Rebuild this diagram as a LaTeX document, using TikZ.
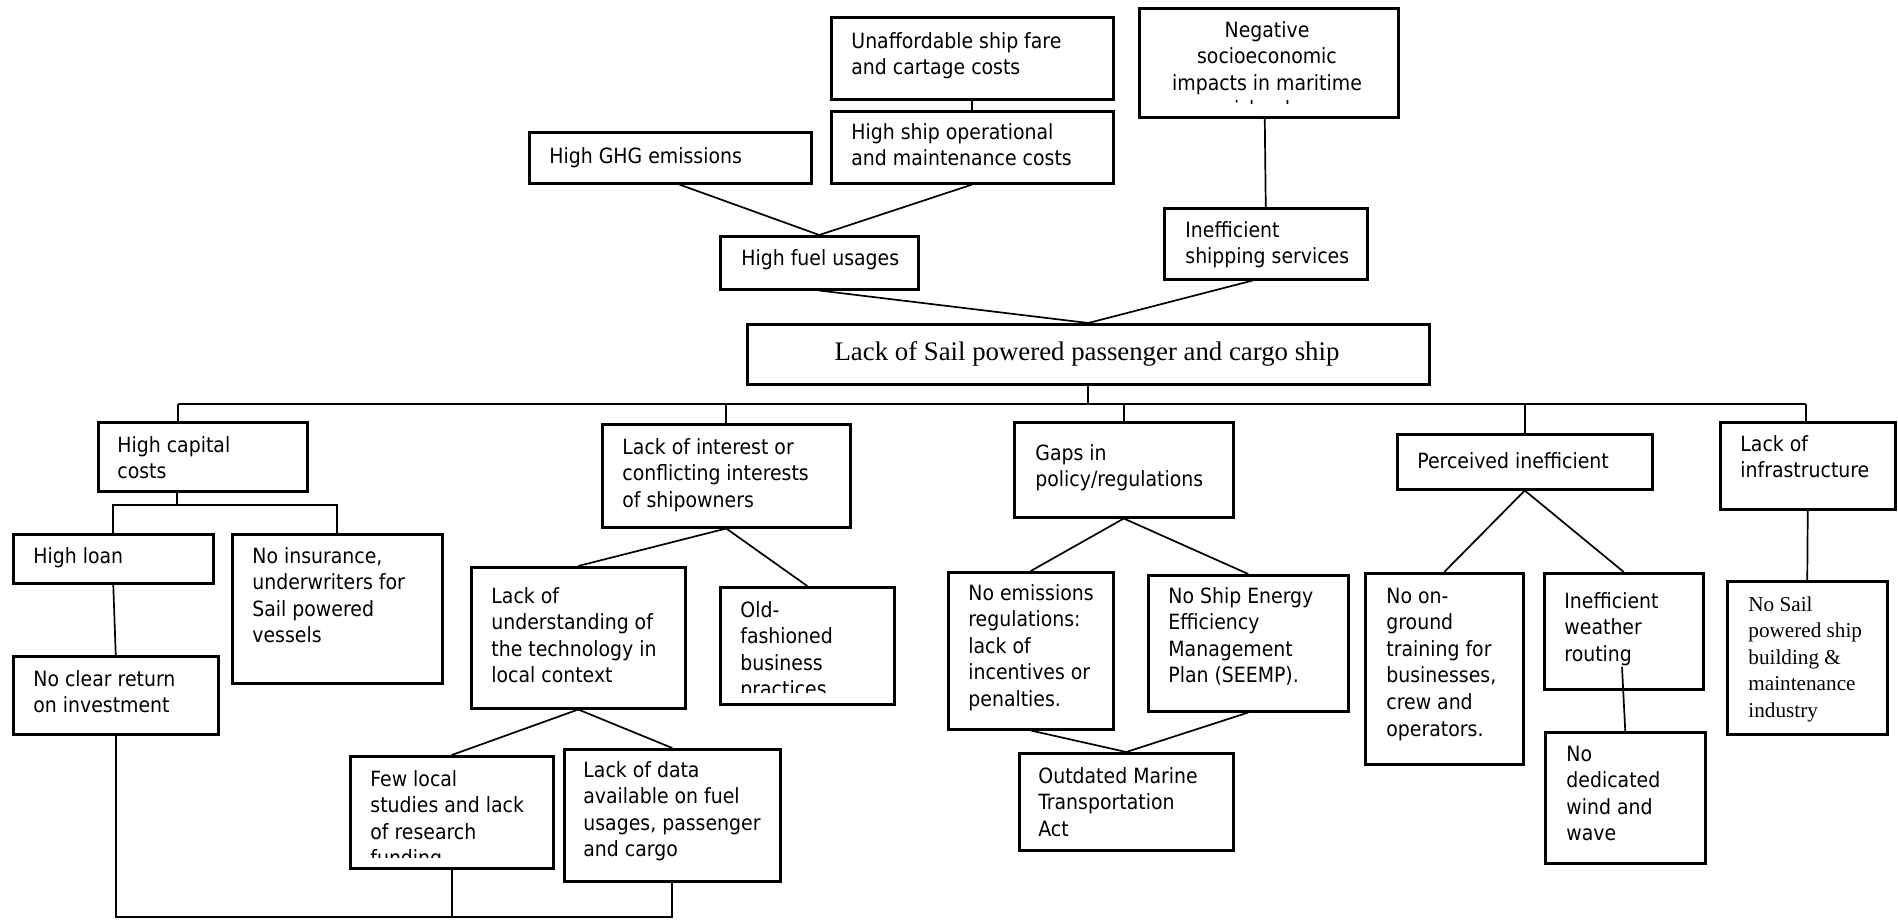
\documentclass[tikz,border=0pt]{standalone}
\usepackage{fontspec}
\setmainfont{DejaVu Sans Condensed}
\newfontfamily\serifface{Liberation Serif}
\usetikzlibrary{calc}
% multi-line labels: the node's base is the first line's baseline
\newcommand\lines[1]{\parbox[t]{10cm}{#1}}
\newcommand\clines[1]{\parbox[t]{5cm}{\centering #1}}
% box from its top-left and bottom-right corners (in px units)
\newcommand\bx[5]{\node[box, minimum width={(#4-#2)*0.5pt}, minimum height={(#5-#3)*0.5pt}] (#1) at (#2,#3) {};}
\begin{document}
\begin{tikzpicture}[x=0.5pt, y=-0.5pt,
  box/.style={draw, line width=1.25pt, inner sep=0pt, anchor=north west},
  txt/.style={inner sep=0pt, anchor=base west, font=\fontsize{10.5}{13.3}\selectfont},
  serif/.style={txt, font=\serifface\fontsize{10.6}{13.3}\selectfont},
  link/.style={line width=0.85pt}]
\useasboundingbox[fill=white] (0,0) rectangle (1898,921);

% ---- boxes ----
\bx{unaff}{830}{16}{1112}{98}
\bx{neg}{1138}{7}{1397}{116}
\bx{hop}{830}{110}{1112}{182}
\bx{ghg}{528}{131}{810}{182}
\bx{fuel}{719}{235}{917}{288}
\bx{ship}{1163}{207}{1366}{278}
\bx{root}{746}{323}{1428}{383}
\bx{cap}{97}{421}{306}{490}
\bx{loan}{12}{533}{212}{582}
\bx{insur}{231}{533}{441}{682}
\bx{noret}{12}{655}{217}{733}
\bx{inter}{601}{423}{849}{526}
\bx{under}{470}{566}{684}{707}
\bx{oldf}{719}{586}{893}{703}
\bx{few}{349}{755}{552}{867}
\bx{data}{563}{748}{779}{880}
\bx{gaps}{1013}{421}{1232}{516}
\bx{emis}{947}{571}{1112}{728}
\bx{seemp}{1147}{574}{1347}{710}
\bx{outd}{1018}{752}{1232}{849}
\bx{perc}{1396}{433}{1651}{488}
\bx{infra}{1719}{421}{1894}{508}
\bx{train}{1364}{572}{1522}{763}
\bx{weath}{1543}{572}{1702}{688}
\bx{wind}{1544}{731}{1704}{862}
\bx{nosail}{1726}{580}{1886}{733}

% ---- labels ----
\node[txt] (tunaff) at (851,48) {\lines{Unaffordable ship fare\\and cartage costs}};
\begin{scope}
  \clip (1138,7) rectangle (1397,103);
  \node[txt, anchor=base] (tneg) at (1267,37) {\clines{Negative\\socioeconomic\\impacts in maritime\\islands}};
\end{scope}
\node[txt] (thop) at (851,139) {\lines{High ship operational\\and maintenance costs}};
\node[txt] (tghg) at (549,163) {High GHG emissions};
\node[txt] (tfuel) at (741,265) {High fuel usages};
\node[txt] (tship) at (1185,237) {\lines{Inefficient\\shipping services}};
\node[txt, anchor=base, font=\serifface\fontsize{13.4}{16}\selectfont] (troot) at (1087,360) {Lack of Sail powered passenger and cargo ship};

\node[txt] (tcap) at (117,452) {\lines{High capital\\costs}};
\node[txt] (tloan) at (33,563) {High loan};
\node[txt] (tinsur) at (252,563) {\lines{No insurance,\\underwriters for\\Sail powered\\vessels}};
\node[txt] (tnoret) at (33,686) {\lines{No clear return\\on investment}};

\node[txt] (tinter) at (622,454) {\lines{Lack of interest or\\conflicting interests\\of shipowners}};
\node[txt] (tunder) at (491,603) {\lines{Lack of\\understanding of\\the technology in\\local context}};
\begin{scope}
  \clip (719,586) rectangle (893,692);
  \node[txt] (toldf) at (740,617) {\lines{Old-\\fashioned\\business\\practices}};
\end{scope}
\begin{scope}
  \clip (349,755) rectangle (552,857);
  \node[txt] (tfew) at (370,786) {\lines{Few local\\studies and lack\\of research\\funding}};
\end{scope}
\node[txt] (tdata) at (583,777) {\lines{Lack of data\\available on fuel\\usages, passenger\\and cargo}};

\node[txt] (tgaps) at (1035,460) {\lines{Gaps in\\policy/regulations}};
\node[txt] (temis) at (968,600) {\lines{No emissions\\regulations:\\lack of\\incentives or\\penalties.}};
\node[txt] (tseemp) at (1168,603) {\lines{No Ship Energy\\Efficiency\\Management\\Plan (SEEMP).}};
\node[txt] (toutd) at (1038,783) {\lines{Outdated Marine\\Transportation\\Act}};

\node[txt] (tperc) at (1417,468) {Perceived inefficient};
\node[txt] (tinfra) at (1740,451) {\lines{Lack of\\infrastructure}};
\node[txt] (ttrain) at (1386,603) {\lines{No on-\\ground\\training for\\businesses,\\crew and\\operators.}};
\node[txt] (tweath) at (1564,608) {\lines{Inefficient\\weather\\routing}};
\node[txt] (twind) at (1566,761) {\lines{No\\dedicated\\wind and\\wave}};
\node[serif] (tnosail) at (1748,611) {\lines{No Sail\\powered ship\\building \&\\maintenance\\industry}};

% ---- connectors: upper tree ----
\draw[link] ($(unaff.east)+(0,4)$) -- ($(unaff.east)+(0,4)$ -| neg.west);
\draw[link] (unaff.south) -- (hop.north);
\draw[link] ($(ghg.south)+(9,0)$) -- (fuel.north);
\draw[link] (hop.south) -- (fuel.north);
\draw[link] ($(neg.south)+(-4,0)$) -- (ship.north);
\draw[link] (fuel.south) -- (root.north);
\draw[link] ($(ship.south)+(-13,0)$) -- (root.north);

% ---- main bus below the root ----
\coordinate (busL) at (178,404);
\coordinate (busR) at (1806,404);
\draw[link] (busL) -- (busR);
\draw[link] (root.south) -- (root.south |- busL);
\draw[link] (busL) -- (busL |- cap.north);
\draw[link] (inter.north |- busL) -- (inter.north);
\draw[link] (gaps.north |- busL) -- (gaps.north);
\draw[link] (perc.north |- busL) -- (perc.north);
\draw[link] (busR) -- (busR |- infra.north);

% ---- capital costs branch ----
\coordinate (capj) at (177,505);
\draw[link] (cap.south -| capj) -- (capj);
\draw[link] (loan.north) |- (insur.north |- capj) -- (insur.north);
\draw[link] (loan.south) -- (noret.north);

% ---- shipowners branch ----
\draw[link] (inter.south) -- (under.north);
\draw[link] (inter.south) -- (oldf.north);
\draw[link] (under.south) -- (few.north);
\draw[link] (under.south) -- (data.north);

% ---- bottom return line ----
\coordinate (loopy) at (0,917);
\draw[link] (noret.south) |- (data.south |- loopy) -- (data.south);
\draw[link] (few.south) -- (few.south |- loopy);

% ---- policy branch ----
\draw[link] (gaps.south) -- (emis.north);
\draw[link] (gaps.south) -- (seemp.north);
\draw[link] (emis.south) -- (outd.north);
\draw[link] (seemp.south) -- (outd.north);

% ---- perceived inefficiency and infrastructure ----
\draw[link] (perc.south) -- (train.north);
\draw[link] (perc.south) -- (weath.north);
\coordinate (wr) at (1622,667);
\draw[link] (wr) -- (wind.north);
\draw[link] (infra.south) -- (nosail.north);
\end{tikzpicture}
\end{document}
